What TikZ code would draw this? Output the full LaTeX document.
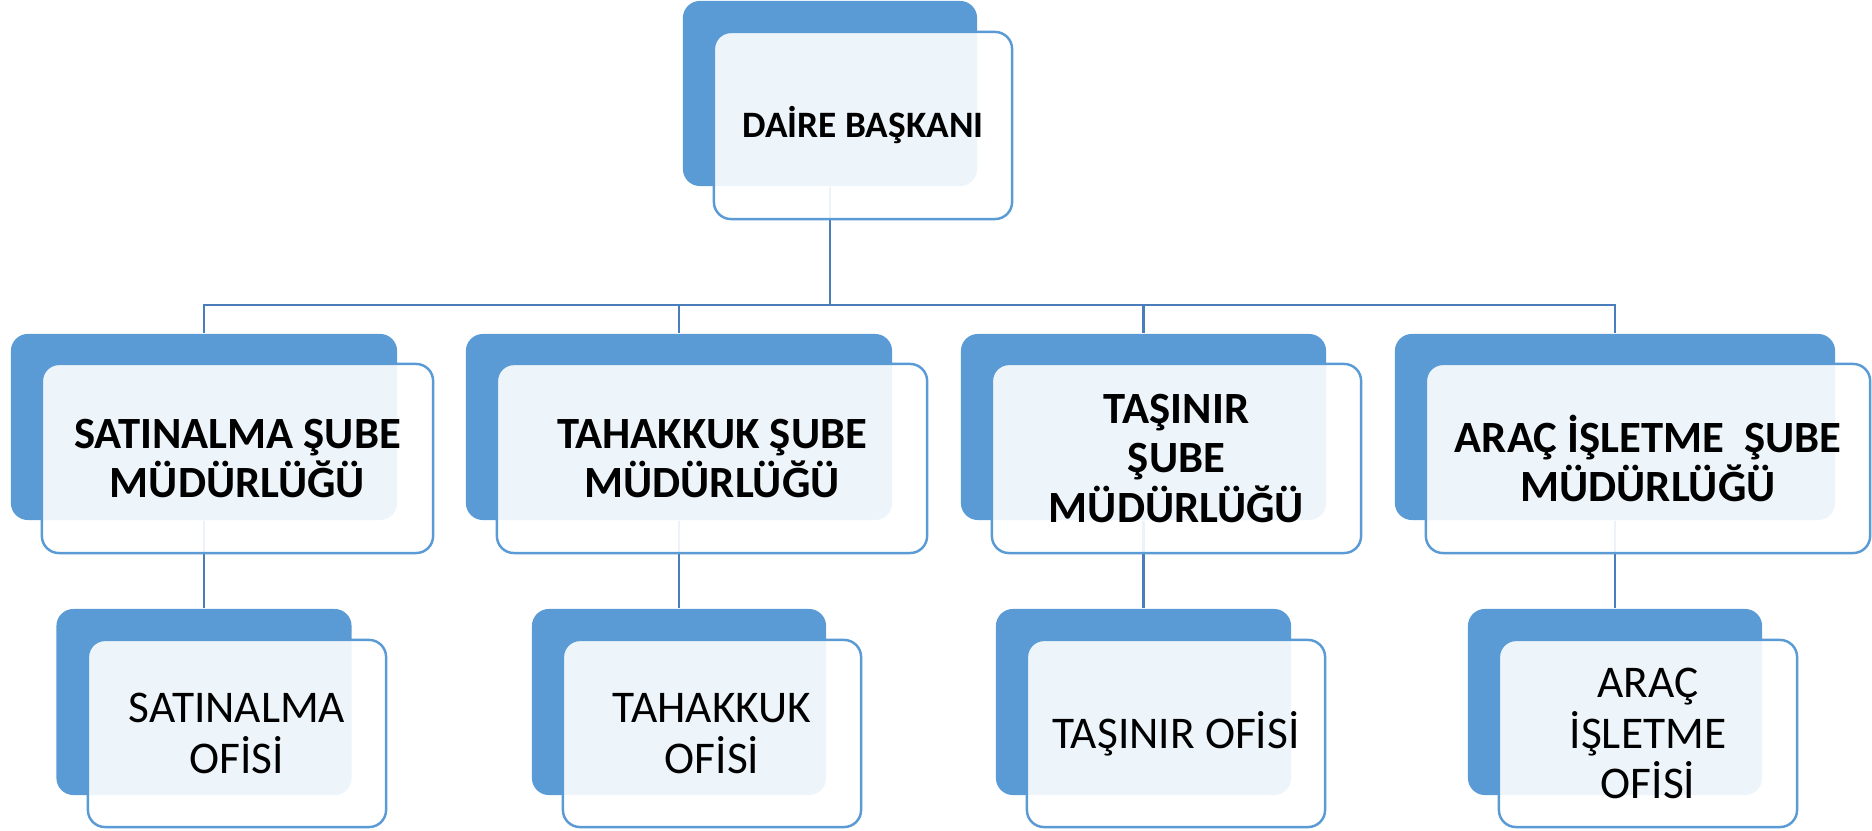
\documentclass[tikz,border=0pt]{standalone}
\usepackage{fontspec}
\usepackage{tikz}
\setmainfont{Carlito}

\definecolor{kutu}{RGB}{91,155,213}
\definecolor{hat}{RGB}{74,126,187}

\begin{document}
\begin{tikzpicture}[x=0.01cm,y=-0.01cm,line width=0.8pt]
  \tikzstyle{arkakutu}=[rounded corners=0.17cm,fill=kutu,inner sep=0pt,minimum height=1.86cm]
  \tikzstyle{onkutu}=[rounded corners=0.17cm,draw=kutu,line width=0.7pt,fill=white,fill opacity=0.9,
                      text opacity=1,inner sep=0pt,align=center,minimum height=1.89cm]
  \tikzstyle{ustyazi}=[font=\fontsize{10.6}{12}\selectfont\bfseries]
  \tikzstyle{ortayazi}=[font=\fontsize{12.7}{14}\selectfont\bfseries]
  \tikzstyle{altyazi}=[font=\fontsize{12.9}{14.3}\selectfont]
\useasboundingbox (0,0) rectangle (1872,831);

% arka kutular
\node [arkakutu,minimum width=2.94cm,minimum height=1.85cm] (b0) at (830,93.5) {};
\node [arkakutu,minimum width=3.86cm] (b1) at (204,427) {};
\node [arkakutu,minimum width=4.26cm] (b2) at (679,427) {};
\node [arkakutu,minimum width=3.65cm] (b3) at (1143.5,427) {};
\node [arkakutu,minimum width=4.40cm] (b4) at (1615,427) {};
\node [arkakutu,minimum width=2.95cm] (c1) at (204,702) {};
\node [arkakutu,minimum width=2.94cm] (c2) at (679,702) {};
\node [arkakutu,minimum width=2.95cm] (c3) at (1143.5,702) {};
\node [arkakutu,minimum width=2.94cm] (c4) at (1615,702) {};

% baglantilar
\coordinate (bus) at (830,305);
\draw [hat] (b0) -- (bus);
\foreach \i in {1,...,4}{
  \draw [hat] (bus) -| (b\i.north);
  \draw [hat] (b\i) -- (c\i);
}

% on kutular
\node [onkutu,ustyazi,minimum width=2.98cm,minimum height=1.87cm] (f0) at (863,125.5) {DAİRE BAŞKANI};
\node [onkutu,ortayazi,minimum width=3.91cm] (f1) at (237.5,458.5) {SATINALMA ŞUBE\\MÜDÜRLÜĞÜ};
\node [onkutu,ortayazi,minimum width=4.30cm] (f2) at (712,458.5) {TAHAKKUK ŞUBE\\MÜDÜRLÜĞÜ};
\node [onkutu,ortayazi,minimum width=3.69cm] (f3) at (1176.5,458.5) {TAŞINIR\\ŞUBE\\MÜDÜRLÜĞÜ};
\node [onkutu,ortayazi,minimum width=4.44cm] (f4) at (1648,458.5) {ARAÇ İŞLETME~~ŞUBE\\MÜDÜRLÜĞÜ};
\node [onkutu,altyazi,minimum width=2.98cm,minimum height=1.87cm] (g1) at (237,733.5) {SATINALMA\\OFİSİ};
\node [onkutu,altyazi,minimum width=2.98cm,minimum height=1.87cm] (g2) at (712,733.5) {TAHAKKUK\\OFİSİ};
\node [onkutu,altyazi,minimum width=2.98cm,minimum height=1.87cm] (g3) at (1176,733.5) {TAŞINIR OFİSİ};
\node [onkutu,altyazi,minimum width=2.98cm,minimum height=1.87cm] (g4) at (1648,733.5) {ARAÇ\\İŞLETME\\OFİSİ};

\end{tikzpicture}
\end{document}
